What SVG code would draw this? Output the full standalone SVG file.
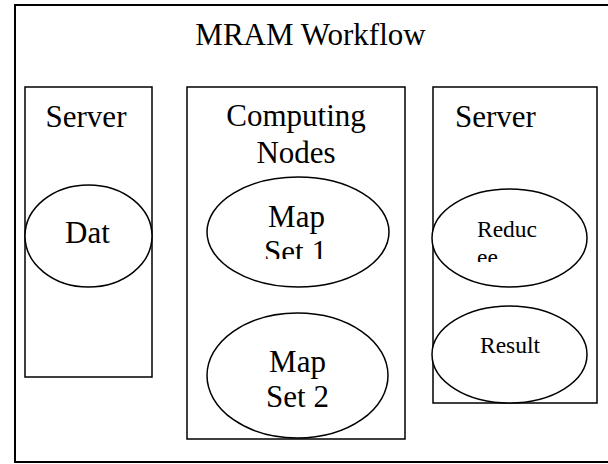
<svg xmlns="http://www.w3.org/2000/svg" width="608" height="464" viewBox="0 0 608 464">
<defs>
<style>
.box{fill:#fff;stroke:#000;stroke-width:1.5}
.ell{fill:#fff;stroke:#000;stroke-width:1.5}
.t{font-family:"Liberation Serif","Times New Roman",serif;fill:#000;font-size:31px}
.s{font-family:"Liberation Serif","Times New Roman",serif;fill:#000;font-size:23.5px}
.c{text-anchor:middle}
</style>
<clipPath id="clipSet1"><rect x="200" y="180" width="200" height="79"/></clipPath>
<clipPath id="clipReduce"><rect x="440" y="195" width="140" height="67"/></clipPath>
</defs>
<rect id="frame" x="15" y="5" width="600" height="457" fill="#fff" stroke="#000" stroke-width="2"/>
<text class="t c" x="310.5" y="45">MRAM Workflow</text>
<g id="server-left">
<rect class="box" x="25" y="87" width="127" height="290"/>
<text class="t c" x="86" y="127">Server</text>
</g>
<g id="computing-nodes">
<rect class="box" x="187" y="87" width="218" height="352"/>
<text class="t c" x="296" y="126">Computing</text>
<text class="t c" x="296" y="163">Nodes</text>
</g>
<g id="server-right">
<rect class="box" x="433" y="87" width="164" height="316"/>
<text class="t" x="455" y="127">Server</text>
</g>
<g id="dat">
<ellipse class="ell" cx="88.5" cy="236" rx="63.5" ry="51"/>
<text class="t c" x="87.5" y="243">Dat</text>
</g>
<g id="map-set-1">
<ellipse class="ell" cx="298" cy="232" rx="91" ry="55"/>
<g clip-path="url(#clipSet1)">
<text class="t c" x="296.5" y="227">Map</text>
<text class="t c" x="295.5" y="262">Set 1</text>
</g>
</g>
<g id="map-set-2">
<ellipse class="ell" cx="297.5" cy="375.5" rx="90.5" ry="62.5"/>
<text class="t c" x="297.5" y="372">Map</text>
<text class="t c" x="297.5" y="407">Set 2</text>
</g>
<g id="reduce">
<ellipse class="ell" cx="509.5" cy="238" rx="77.5" ry="49"/>
<g clip-path="url(#clipReduce)">
<text class="s" x="477" y="237">Reduc</text>
<text class="s" x="477" y="265">ee</text>
</g>
</g>
<g id="result">
<ellipse class="ell" cx="509.5" cy="354.5" rx="77.5" ry="48.5"/>
<text class="s c" x="510" y="353">Result</text>
</g>
<g id="connectors"/>
</svg>
